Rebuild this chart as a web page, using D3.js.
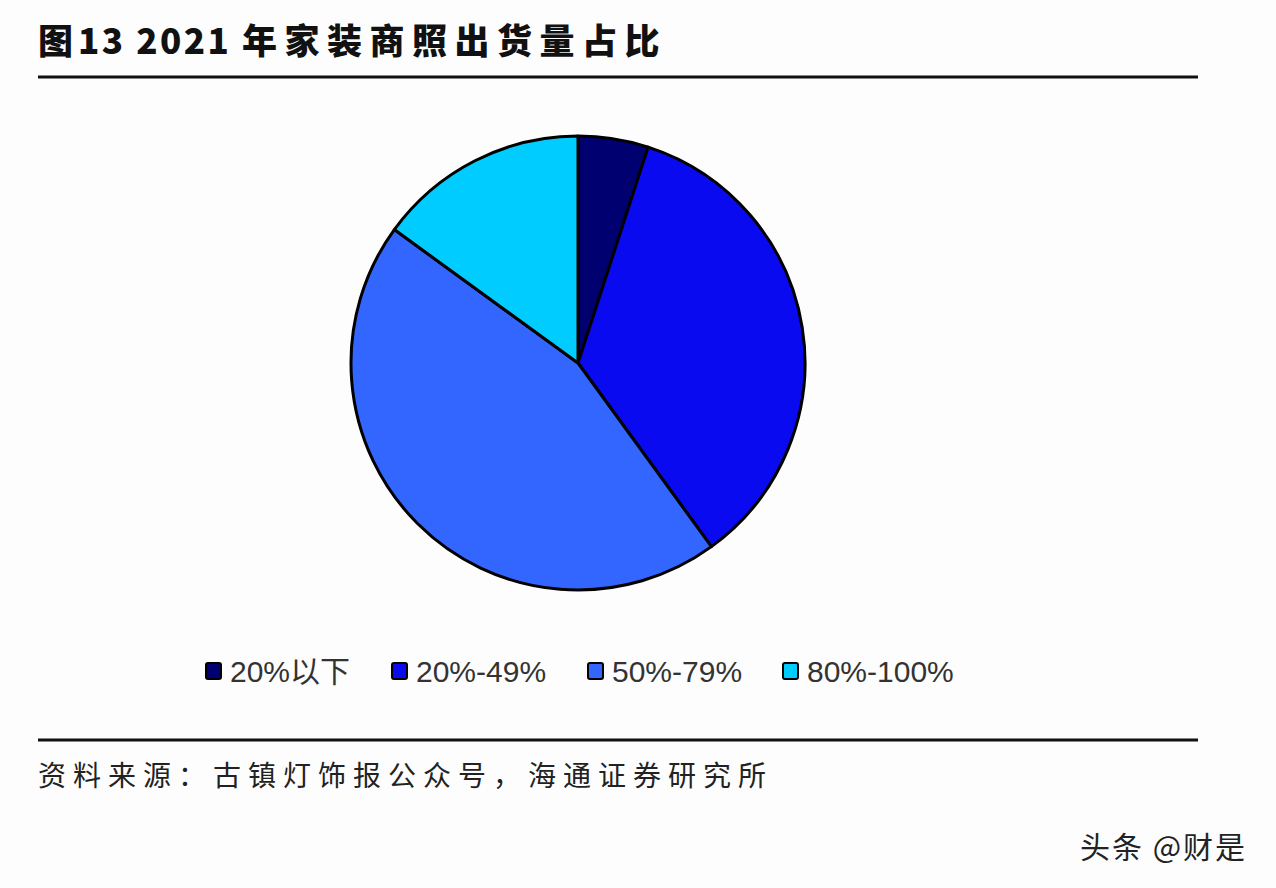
<!DOCTYPE html>
<html><head><meta charset="utf-8">
<script src="https://cdn.jsdelivr.net/npm/d3@7"></script>
<style>body{margin:0;background:#fff;}svg{display:block;}</style>
</head><body>
<script>
const categories = ["20%以下", "20%-49%", "50%-79%", "80%-100%"];
const values = [5, 35, 45, 15];
const colors = ["#000070", "#0a0af0", "#3366ff", "#00ccff"];
const titleParts = ["图", "13 2021 ", "年家装商照出货量占比"];
const source = "资料来源：古镇灯饰报公众号，海通证券研究所";
const watermark = "头条 @财是";

const W = 1276, H = 888;
const svg = d3.select("body").append("svg").attr("width", W).attr("height", H);
svg.append("rect").attr("width", W).attr("height", H).attr("fill", "#fdfdfe");

const t = svg.append("text").attr("x", 38).attr("y", 54)
  .attr("font-family", "'Noto Sans CJK SC', sans-serif").attr("font-weight", "900")
  .attr("font-size", 35).attr("fill", "#111");
t.append("tspan").attr("letter-spacing", 5).text(titleParts[0]);
t.append("tspan").attr("letter-spacing", 2.5).text(titleParts[1]);
t.append("tspan").attr("letter-spacing", 7.5).text(titleParts[2]);
svg.append("line").attr("x1", 38).attr("x2", 1198).attr("y1", 77).attr("y2", 77)
  .attr("stroke", "#111").attr("stroke-width", 3);

const cx = 578, cy = 363, r = 227;
const pie = d3.pie().sort(null).value(d => d.v);
const arc = d3.arc().innerRadius(0).outerRadius(r);
const data = categories.map((c, i) => ({c, v: values[i], col: colors[i]}));
const g = svg.append("g").attr("transform", `translate(${cx},${cy})`);
g.selectAll("path").data(pie(data)).enter().append("path")
  .attr("d", arc).attr("fill", d => d.data.col)
  .attr("stroke", "#000").attr("stroke-width", 3).attr("stroke-linejoin", "round");

const legX = [206, 392, 588, 783];
const lg = svg.append("g");
data.forEach((d, i) => {
  lg.append("rect").attr("x", legX[i]).attr("y", 663).attr("width", 15).attr("height", 16)
    .attr("fill", d.col).attr("stroke", "#000").attr("stroke-width", 2).attr("rx", 2);
  lg.append("text").attr("x", legX[i] + 24).attr("y", 682)
    .attr("font-family", "'Liberation Sans', 'Noto Sans CJK SC', sans-serif")
    .attr("font-size", 30).attr("fill", "#333").text(d.c);
});

svg.append("line").attr("x1", 38).attr("x2", 1198).attr("y1", 740).attr("y2", 740)
  .attr("stroke", "#111").attr("stroke-width", 3);
svg.append("text").attr("x", 38).attr("y", 786)
  .attr("font-family", "'Noto Sans CJK SC', sans-serif")
  .attr("font-size", 28).attr("fill", "#222").attr("letter-spacing", 7).text(source);

svg.append("text").attr("x", 1080).attr("y", 858)
  .attr("font-family", "'Noto Sans CJK SC', sans-serif")
  .attr("font-size", 30).attr("letter-spacing", 2).attr("fill", "#222").text(watermark);
</script>
</body></html>
